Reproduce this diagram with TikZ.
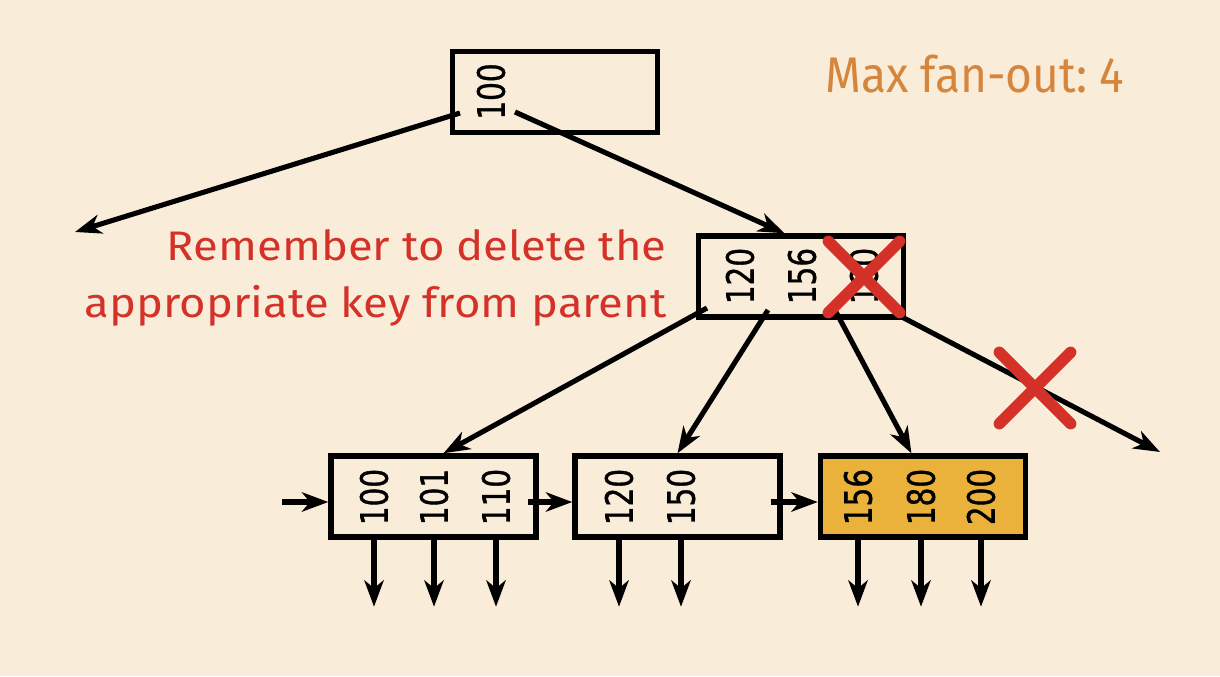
\documentclass[tikz,border=0pt]{standalone}
\usepackage{fontspec}
\setmainfont{Fira Sans}
\newfontfamily\notefont[FakeStretch=1.1]{Fira Sans}
\newfontfamily\fanfont[FakeStretch=0.92]{Fira Sans}
\newfontfamily\keyfont[FakeStretch=0.78,FakeBold=0.9]{DejaVu Sans}
\usetikzlibrary{arrows.meta,calc,shapes.misc}
\definecolor{bgcream}{RGB}{249,237,217}
\definecolor{leafgold}{RGB}{234,178,58}
\definecolor{notered}{RGB}{212,50,40}
\definecolor{fanorange}{RGB}{214,134,60}
\frenchspacing
\begin{document}
\begin{tikzpicture}[x=0.02cm, y=-0.02cm,
        box/.style = {draw, line width=3.1pt, minimum width=4.1cm,
        minimum height=1.62cm, inner sep=0pt},
        key/.style = {rotate=90, inner sep=0pt,
        font=\keyfont\fontsize{21.5}{21.5}\selectfont},
        ptr/.style = {line width=2.9pt,
        -{Stealth[length=15pt, width=11pt, inset=4.5pt]}},
        xmark/.style = {cross out, draw=notered, line width=6.5pt,
        line cap=round, minimum size=1.2cm, inner sep=0pt},
        note/.style = {text=notered, inner sep=0pt,
        font=\notefont\fontsize{23.5}{23.5}\selectfont}]
    \fill[bgcream] (0,0) rectangle (1220,676);

    \node[box] (root) at (555,92) {};
    \node[box] (inner) at (801,276.5) {};
    \node[box] (leafA) at (433.5,496.5) {};
    \node[box] (leafB) at (677.5,496.5) {};
    \node[box, fill=leafgold] (leafC) at (923,496.5) {};

    \node[key] (r1) at (491,91.5) {100};
    \node[key] (m1) at (740,276) {120};
    \node[key] (m2) at (802,276) {156};
    \node[key] (m3) at (864,276) {180};
    \node[key] (a1) at (374,497) {100};
    \node[key] (a2) at (434,497) {101};
    \node[key] (a3) at (496,497) {110};
    \node[key] (b1) at (619,497) {120};
    \node[key] (b2) at (681,497) {150};
    \node[key] (c1) at (858,497) {156};
    \node[key] (c2) at (921,497) {180};
    \node[key] (c3) at (981,497) {200};

    \coordinate (rootL) at (460,113);
    \coordinate (rootR) at (515,112);
    \coordinate (farL) at (75,232);
    \coordinate (in1) at (707,308);
    \coordinate (in2) at (768,310);
    \coordinate (in3) at (836,312);
    \coordinate (in4) at (900,316);
    \coordinate (farR) at (1160,452);
    \coordinate (entry) at (282,502);

    \draw[ptr] (rootL) -- (farL);
    \draw[ptr] (rootR) -- (inner.111);
    \draw[ptr] (in1) -- (leafA.77);
    \draw[ptr] (in2) -- (leafB.north);
    \draw[ptr] (in3) -- (leafC.105);
    \draw[ptr] (in4) -- (farR);

    \draw[ptr] (entry) -- (entry -| leafA.west);
    \draw[ptr] ($(leafA.east)+(-11,5.5)$) -- ($(leafB.west)+(0,5.5)$);
    \draw[ptr] ($(leafB.east)+(-12,5.5)$) -- ($(leafC.west)+(0,5.5)$);
    \foreach \k in {a1,a2,a3,b1,b2,c1,c2,c3}
        \draw[ptr] (\k |- leafA.south) -- ++(0,67);

    \node[xmark] (gone) at (864,277) {};
    \node[xmark] (cut) at (1035,388) {};

    \node[note, anchor=base east] (remA) at (667,260) {Remember to delete the};
    \node[note, anchor=base east] (remB) at (667,317) {appropriate key from parent};
    \node[text=fanorange, inner sep=0pt, anchor=base west,
        font=\fanfont\fontsize{28.5}{28.5}\selectfont] (fan) at (825,92) {Max fan-out: 4};
\end{tikzpicture}
\end{document}
